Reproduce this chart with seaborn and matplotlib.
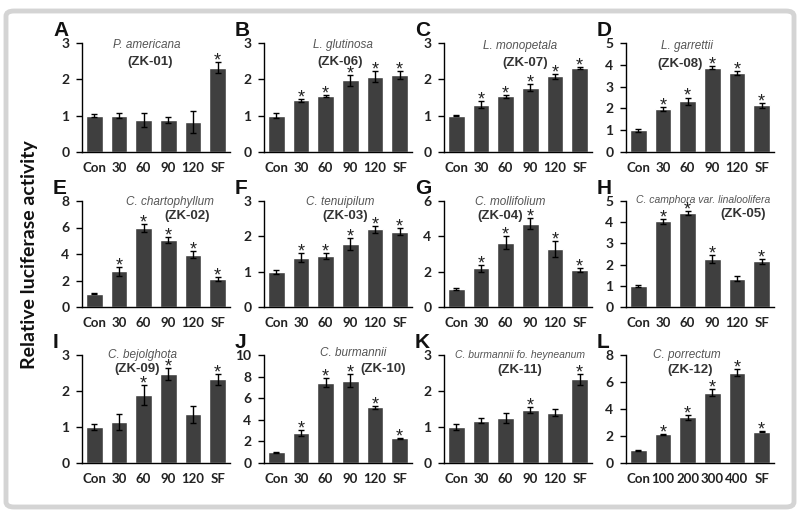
import numpy as np
import pandas as pd
import matplotlib
matplotlib.use("Agg")
import matplotlib.pyplot as plt
from matplotlib.patches import FancyBboxPatch
import seaborn as sns

# ── Data ────────────────────────────────────────────────────────────────────
panel_letters = ["A", "B", "C", "D", "E", "F", "G", "H", "I", "J", "K", "L"]
species = ["P. americana", "L. glutinosa", "L. monopetala", "L. garrettii",
           "C. chartophyllum", "C. tenuipilum", "C. mollifolium",
           "C. camphora var. linaloolifera",
           "C. bejolghota", "C. burmannii", "C. burmannii fo. heyneanum",
           "C. porrectum"]
codes = ["(ZK-01)", "(ZK-06)", "(ZK-07)", "(ZK-08)",
         "(ZK-02)", "(ZK-03)", "(ZK-04)", "(ZK-05)",
         "(ZK-09)", "(ZK-10)", "(ZK-11)", "(ZK-12)"]

doses = ["Con", "30", "60", "90", "120", "SF"]
doses_l = ["Con", "100", "200", "300", "400", "SF"]

means = [
    [1.00, 1.00, 0.88, 0.88, 0.82, 2.32],
    [1.00, 1.42, 1.55, 1.98, 2.07, 2.12],
    [1.00, 1.30, 1.53, 1.77, 2.08, 2.32],
    [1.00, 1.97, 2.33, 3.87, 3.62, 2.15],
    [1.00, 2.70, 5.95, 5.05, 3.95, 2.12],
    [1.00, 1.40, 1.45, 1.78, 2.20, 2.13],
    [1.00, 2.20, 3.65, 4.72, 3.30, 2.10],
    [1.00, 4.05, 4.42, 2.27, 1.33, 2.15],
    [1.00, 1.15, 1.88, 2.48, 1.35, 2.33],
    [1.00, 2.80, 7.45, 7.60, 5.15, 2.30],
    [1.00, 1.18, 1.25, 1.47, 1.40, 2.33],
    [0.95, 2.13, 3.38, 5.20, 6.70, 2.32],
]
errors = [
    [0.05, 0.06, 0.20, 0.08, 0.30, 0.15],
    [0.07, 0.04, 0.03, 0.15, 0.15, 0.10],
    [0.02, 0.10, 0.03, 0.10, 0.08, 0.03],
    [0.06, 0.08, 0.17, 0.08, 0.08, 0.12],
    [0.05, 0.35, 0.30, 0.25, 0.25, 0.15],
    [0.06, 0.12, 0.08, 0.17, 0.10, 0.10],
    [0.05, 0.20, 0.35, 0.30, 0.45, 0.12],
    [0.06, 0.12, 0.10, 0.20, 0.12, 0.10],
    [0.08, 0.22, 0.28, 0.17, 0.23, 0.15],
    [0.05, 0.30, 0.40, 0.60, 0.15, 0.05],
    [0.08, 0.08, 0.15, 0.08, 0.10, 0.15],
    [0.03, 0.03, 0.20, 0.25, 0.25, 0.05],
]
signif = [
    [0, 0, 0, 0, 0, 1],
    [0, 1, 1, 1, 1, 1],
    [0, 1, 1, 1, 1, 1],
    [0, 1, 1, 1, 1, 1],
    [0, 1, 1, 1, 1, 1],
    [0, 1, 1, 1, 1, 1],
    [0, 1, 1, 1, 1, 1],
    [0, 1, 1, 1, 0, 1],
    [0, 0, 1, 1, 0, 1],
    [0, 1, 1, 1, 1, 1],
    [0, 0, 0, 1, 0, 1],
    [0, 1, 1, 1, 1, 1],
]
y_max = [3, 3, 3, 5, 8, 3, 6, 5, 3, 10, 3, 8]
y_step = [1, 1, 1, 1, 2, 1, 2, 1, 1, 2, 1, 2]

# ── Layout (pixels in an 800 x 515 canvas) ──────────────────────────────────
W, H = 800, 515
col_left = [82, 264, 444, 626]
ax_w = 148
row_top = [43, 201, 355]
row_bot = [152, 307, 463]
# title centres: (species x, species y, code x, code y)
title_pos = [
    (147, 45, 150, 62), (343, 45, 340, 62), (520, 46, 525, 63), (687, 46, 680, 64),
    (170, 202, 187, 216), (340, 202, 345, 216), (510, 202, 500, 216), (703, 200, 743, 214),
    (143, 355, 137, 369), (353, 353, 383, 369), (520, 355, 520, 370), (687, 355, 690, 370),
]

BAR = "#3f3f3f"
TICK_FONT = ["Lato", "DejaVu Sans"]

sns.set_style("white")
plt.rcParams["font.family"] = ["Liberation Sans", "DejaVu Sans"]

fig = plt.figure(figsize=(W / 100, H / 100), dpi=100)

# light grey frame round the figure
frame = FancyBboxPatch((6 / W, 8 / H), 788 / W, 496 / H,
                       boxstyle="round,pad=0,rounding_size=0.01",
                       transform=fig.transFigure, fill=False,
                       edgecolor="#d4d4d4", linewidth=3.5)
fig.patches.append(frame)

for i in range(12):
    r, c = divmod(i, 4)
    left = col_left[c]
    ax = fig.add_axes([left / W, 1 - row_bot[r] / H, ax_w / W,
                       (row_bot[r] - row_top[r]) / H])
    cats = doses_l if i == 11 else doses
    df = pd.DataFrame({"dose": cats, "activity": means[i]})
    sns.barplot(data=df, x="dose", y="activity", order=cats, color=BAR,
                saturation=1, width=0.68, errorbar=None, ax=ax)
    xs = np.arange(len(cats))
    ax.errorbar(xs, means[i], yerr=errors[i], fmt="none", ecolor="black",
                elinewidth=1, capsize=2, capthick=1)
    for x, m, e, s in zip(xs, means[i], errors[i], signif[i]):
        if s:
            ax.annotate("*", (x, m + e), xytext=(0, -2.5),
                        textcoords="offset points", ha="center", va="baseline",
                        fontsize=13, color="#222222", annotation_clip=False)

    ax.set_xlim(-0.5, len(cats) - 0.5)
    ax.set_ylim(0, y_max[i])
    ax.set_yticks(np.arange(0, y_max[i] + 0.01, y_step[i]))
    ax.set_xticks(xs)
    ax.set_xticklabels(cats)
    ax.set_xticks(np.arange(-0.5, len(cats), 1), minor=True)
    ax.tick_params(axis="x", which="major", length=0, pad=7, labelsize=9.5)
    ax.tick_params(axis="x", which="minor", length=4, width=1, direction="out",
                   color="black")
    ax.tick_params(axis="y", length=4, width=1, direction="out", color="black",
                   labelsize=10, pad=5, left=True)
    for lab in ax.get_xticklabels() + ax.get_yticklabels():
        lab.set_fontweight("bold")
        lab.set_family(TICK_FONT)
        lab.set_color("#222222")
    ax.set_xlabel("")
    ax.set_ylabel("")
    sns.despine(ax=ax)
    for sp in ["left", "bottom"]:
        ax.spines[sp].set_color("black")
        ax.spines[sp].set_linewidth(1)

    # panel letter
    fig.text((left - 29) / W, 1 - (row_top[r] - 13) / H, panel_letters[i],
             fontsize=15, fontweight="bold", ha="left", va="center",
             color="#111111")
    sx, sy, cx, cy = title_pos[i]
    fig.text(sx / W, 1 - sy / H, species[i],
             fontsize=8.5 if i not in (7, 10) else 7.5,
             style="italic", color="#555555", ha="center", va="center")
    fig.text(cx / W, 1 - cy / H, codes[i], fontsize=9.5, fontweight="bold",
             color="#333333", ha="center", va="center")

fig.text(30 / W, 1 - 255 / H, "Relative luciferase activity", rotation=90,
         fontsize=14, fontweight="bold", ha="center", va="center",
         color="#111111", family=["Lato", "DejaVu Sans"])

fig.savefig("out.png", dpi=100, facecolor="white")
